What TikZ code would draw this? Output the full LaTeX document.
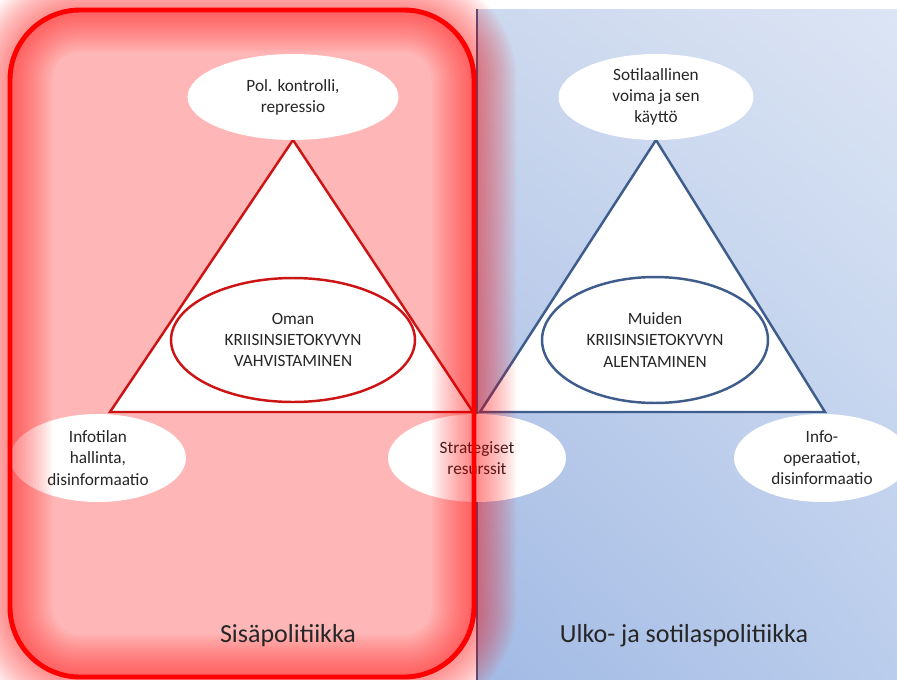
\documentclass[tikz,border=0pt]{standalone}
\usepackage{fontspec}
\setmainfont{Carlito}
\usepackage{tikz}
\usetikzlibrary{shapes.geometric, shadings, positioning, calc}
\definecolor{sisaRed}{RGB}{255, 0, 0}
\definecolor{sisaPink}{RGB}{255, 182, 182}
\definecolor{triRed}{RGB}{205, 20, 20}
\definecolor{ulkoBlue}{RGB}{62, 92, 140}
\definecolor{textGray}{RGB}{38, 38, 38}
\definecolor{blueUL}{RGB}{204, 216, 238}
\definecolor{blueUR}{RGB}{220, 229, 244}
\definecolor{blueLL}{RGB}{162, 186, 228}
\definecolor{blueLR}{RGB}{186, 205, 236}
\tikzset{
  bubble/.style={ellipse, fill=white, inner sep=0pt, align=center, text=textGray,
    font=\fontsize{9.8}{12}\selectfont},
  core/.style={bubble, line width=1.4pt},
  area/.style={text=textGray, font=\fontsize{14.8}{17}\selectfont},
  sisabox/.style={rounded corners=1.4cm}
}

\begin{document}
\begin{tikzpicture}[x=0.02cm, y=-0.02cm]
        \useasboundingbox (0,0) rectangle (897,680);

        % Backgrounds
        \shade[upper left=blueUL, upper right=blueUR, lower left=blueLL, lower right=blueLR]
            (477,9) rectangle (897,680);
        \fill[sisaPink, sisabox] (10,10) rectangle (474,677);
        \draw[ulkoBlue, line width=1.2pt] (477,9) -- (477,680);

        % Triangles
        \coordinate (lTop) at (293,140);
        \coordinate (lLeft) at (110,412);
        \coordinate (lRight) at (473,412);
        \coordinate (rTop) at (656,140);
        \coordinate (rLeft) at (480,412);
        \coordinate (rRight) at (825,412);
        \filldraw[fill=white, draw=triRed, line width=1.4pt] (lTop) -- (lLeft) -- (lRight) -- cycle;
        \filldraw[fill=white, draw=ulkoBlue, line width=1.4pt] (rTop) -- (rLeft) -- (rRight) -- cycle;

        % Cores
        \node[core, draw=triRed, minimum width=4.88cm, minimum height=2.48cm]
            (oman) at (293,340) {Oman\\KRIISINSIETOKYVYN\\VAHVISTAMINEN};
        \node[core, draw=ulkoBlue, minimum width=4.52cm, minimum height=2.52cm]
            (muiden) at (655,340) {Muiden\\KRIISINSIETOKYVYN\\ALENTAMINEN};

        % Corners
        \node[bubble, minimum width=4.22cm, minimum height=1.72cm]
            (kontrolli) at (293,97) {Pol. kontrolli,\\repressio};
        \node[bubble, minimum width=3.9cm, minimum height=1.72cm]
            (voima) at (656,97) {Sotilaallinen\\voima ja sen\\käyttö};
        \node[bubble, minimum width=3.52cm, minimum height=1.76cm]
            (infotila) at (98,458) {Infotilan\\hallinta,\\disinformaatio};
        \node[bubble, minimum width=3.56cm, minimum height=1.76cm]
            (resurssit) at (477,458) {Strategiset\\resurssit};
        \node[bubble, minimum width=3.52cm, minimum height=1.76cm]
            (infoop) at (822,458) {Info-\\operaatiot,\\disinformaatio};

        % Glow and frame
        \foreach \w in {3,6,...,48}
            \draw[sisaRed, line width=\w pt, opacity=0.035, sisabox] (10,10) rectangle (474,677);
        \draw[sisaRed, line width=2.8pt, sisabox] (10,10) rectangle (474,677);

        % Labels
        \node[area] (sisa) at (288,636) {Sisäpolitiikka};
        \node[area] (ulko) at (684,636) {Ulko- ja sotilaspolitiikka};
    \end{tikzpicture}
\end{document}
